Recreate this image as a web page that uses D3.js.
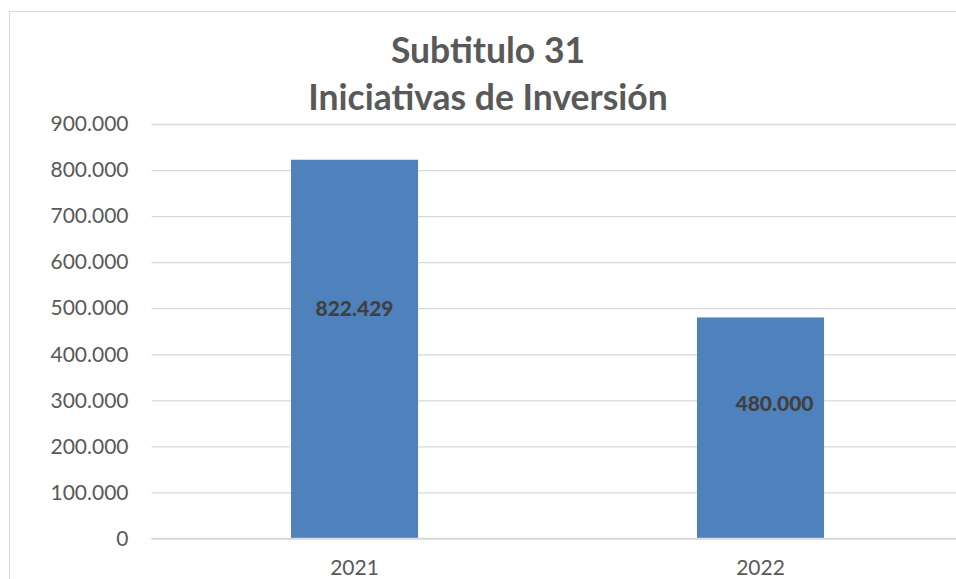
<!DOCTYPE html>
<html>
<head>
<meta charset="utf-8">
<script src="https://cdn.jsdelivr.net/npm/d3@7"></script>
<style>
  html, body { margin: 0; padding: 0; background: #fff; }
  svg { display: block; }
</style>
</head>
<body>
<div id="chart"></div>
<script>
const categories = ["2021", "2022"];
const values = [822429, 480000];
const yTicks = [0, 100000, 200000, 300000, 400000, 500000, 600000, 700000, 800000, 900000];
const titleLines = ["Subtitulo 31", "Iniciativas de Inversión"];

const W = 956, H = 579;
const margin = { left: 151.5, right: -7.5, top: 124, bottom: 40.5 };

const fmt = v => d3.format(",")(v).replace(/,/g, ".");

const svg = d3.select("#chart").append("svg")
  .attr("width", W).attr("height", H);

// chart border
svg.append("rect")
  .attr("x", 9.5).attr("y", 11.5)
  .attr("width", 960).attr("height", 600)
  .attr("fill", "#fff").attr("stroke", "#d9d9d9").attr("stroke-width", 1);

const x = d3.scaleBand()
  .domain(categories)
  .range([margin.left, W - margin.right])
  .paddingInner(0.687).paddingOuter(0.3435);

const y = d3.scaleLinear()
  .domain([0, 900000])
  .range([H - margin.bottom, margin.top]);

// gridlines
svg.append("g")
  .attr("transform", `translate(${margin.left},0)`)
  .call(d3.axisLeft(y).tickValues(yTicks).tickSize(-(W - margin.right - margin.left)).tickFormat(""))
  .call(g => g.select(".domain").remove())
  .call(g => g.selectAll("line").attr("stroke", "#d9d9d9").attr("stroke-width", 1.3));

// y axis labels
svg.append("g")
  .attr("transform", `translate(${margin.left},0)`)
  .call(d3.axisLeft(y).tickValues(yTicks).tickSize(0).tickPadding(23).tickFormat(fmt))
  .call(g => g.select(".domain").remove())
  .call(g => g.selectAll("text")
    .attr("fill", "#595959")
    .style("font-family", "Lato, 'Open Sans', sans-serif")
    .style("font-size", "21px"));

// bars
svg.append("g").selectAll("rect")
  .data(categories)
  .join("rect")
  .attr("x", d => x(d))
  .attr("width", x.bandwidth())
  .attr("y", (d, i) => y(values[i]))
  .attr("height", (d, i) => y(0) - y(values[i]))
  .attr("fill", "#4f81bd");

// bottom axis line
svg.append("line")
  .attr("x1", margin.left).attr("x2", W)
  .attr("y1", y(0)).attr("y2", y(0))
  .attr("stroke", "#d9d9d9").attr("stroke-width", 1.3);

// x axis labels
svg.append("g")
  .attr("transform", `translate(0,${y(0)})`)
  .call(d3.axisBottom(x).tickSize(0).tickPadding(22))
  .call(g => g.select(".domain").remove())
  .call(g => g.selectAll("text")
    .attr("fill", "#595959")
    .style("font-family", "Lato, 'Open Sans', sans-serif")
    .style("font-size", "21px"));

// data labels (manually positioned in original chart)
const labelShift = [{ dx: 0, dy: 156 }, { dx: 14, dy: 94 }];
svg.append("g").selectAll("text")
  .data(categories)
  .join("text")
  .attr("x", (d, i) => x(d) + x.bandwidth() / 2 + labelShift[i].dx)
  .attr("y", (d, i) => y(values[i]) + labelShift[i].dy)
  .attr("text-anchor", "middle")
  .attr("fill", "#404040")
  .style("font-family", "Lato, 'Open Sans', sans-serif")
  .style("font-weight", "900")
  .style("font-size", "21px")
  .text((d, i) => fmt(values[i]));

// title
svg.append("text")
  .attr("x", 488).attr("y", 63)
  .attr("text-anchor", "middle")
  .attr("fill", "#595959")
  .style("font-family", "Lato, 'Open Sans', sans-serif")
  .style("font-weight", "bold")
  .style("font-size", "35.5px")
  .selectAll("tspan")
  .data(titleLines)
  .join("tspan")
  .attr("x", 488)
  .attr("dy", (d, i) => i === 0 ? 0 : 47)
  .text(d => d);
</script>
</body>
</html>
